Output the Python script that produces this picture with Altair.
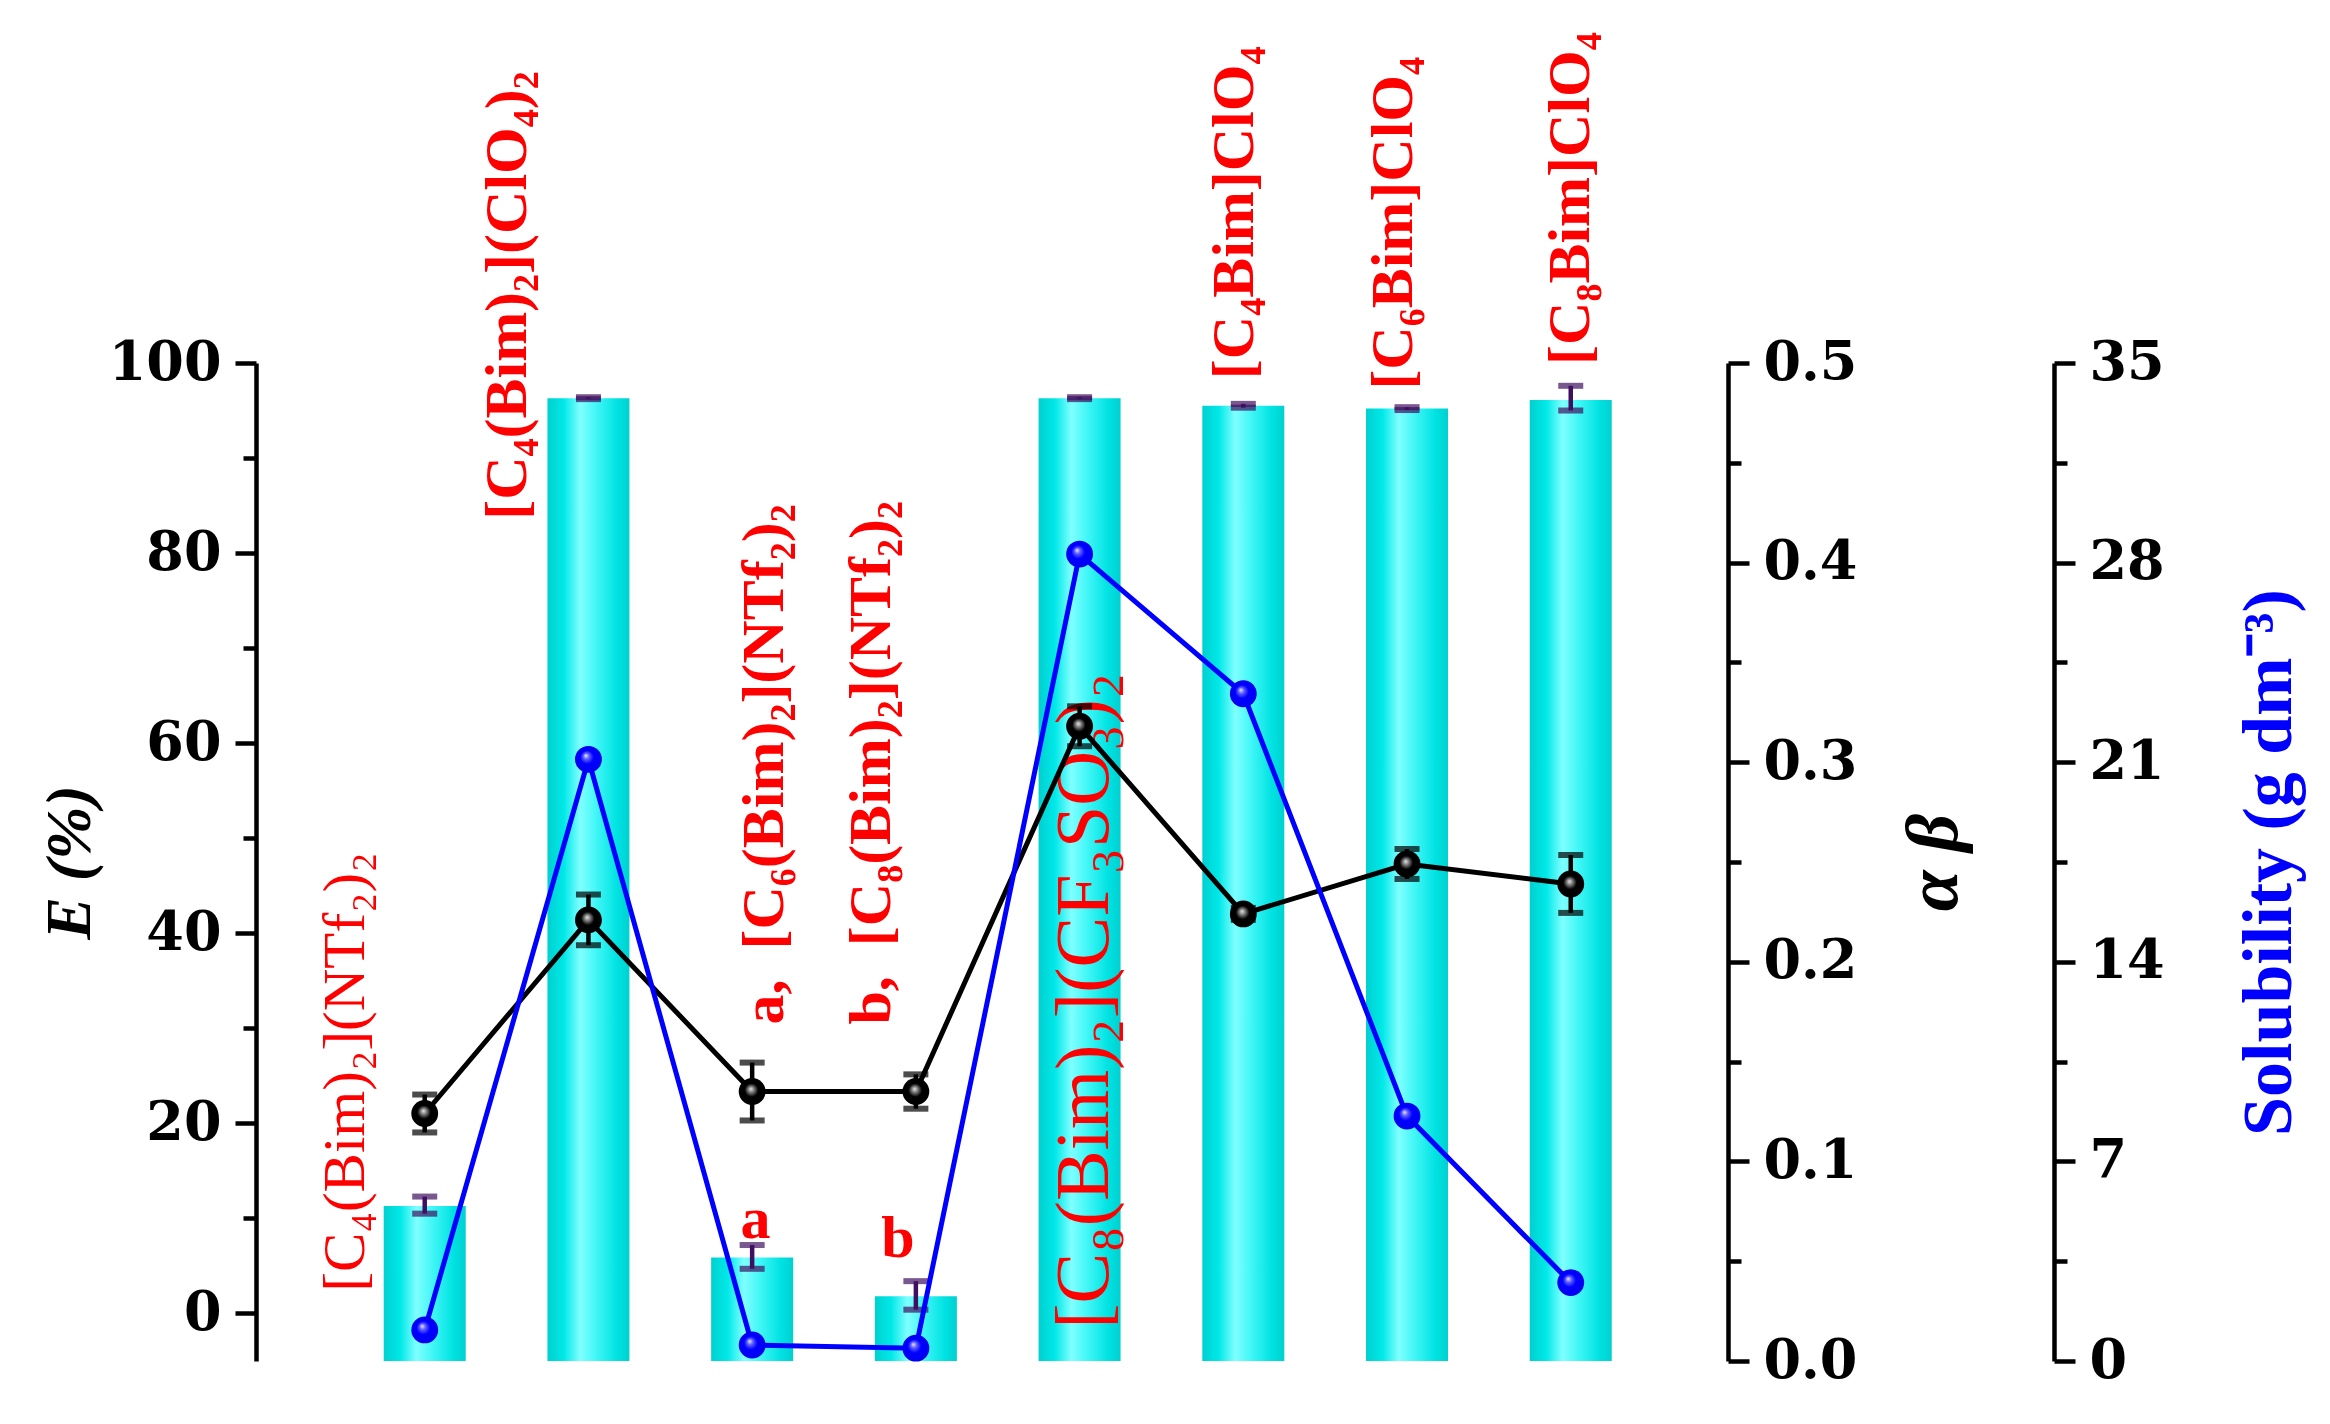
import altair as alt
import pandas as pd

# ---------------- data ----------------
idx = [1, 2, 3, 4, 5, 6, 7, 8]
names = [
    "[C₄(Bim)₂](NTf₂)₂",
    "[C₄(Bim)₂](ClO₄)₂",
    "a,\u2002[C₆(Bim)₂](NTf₂)₂",
    "b,\u2002[C₈(Bim)₂](NTf₂)₂",
    "[C₈(Bim)₂](CF₃SO₃)₂",
    "[C₄Bim]ClO₄",
    "[C₆Bim]ClO₄",
    "[C₈Bim]ClO₄",
]
E_vals = [11.3, 96.3, 5.9, 1.8, 96.3, 95.5, 95.2, 96.1]
E_err_center = [11.4, 96.3, 5.95, 1.9, 96.3, 95.5, 95.2, 96.3]
E_err = [0.9, 0.1, 1.25, 1.5, 0.1, 0.2, 0.15, 1.3]
ab_vals = [0.124, 0.221, 0.135, 0.135, 0.318, 0.224, 0.249, 0.239]
ab_err = [0.0095, 0.0127, 0.0145, 0.0086, 0.010, 0.003, 0.0075, 0.0145]
sol_vals = [1.09, 21.1, 0.56, 0.45, 28.3, 23.4, 8.59, 2.75]

# label anchors (x in category units, y in E units)
label_k = [0, 1, 2, 3, 4, 5, 6, 7]
label_x = [0.52, 1.51, 3.08, 3.73, 5.03, 5.95, 6.92, 8.00]
label_E = [2.3, 83.5, 30.4, 30.4, -1.6, 98.3, 97.2, 99.8]
note_text = ["a", "b"]
note_x = [3.02, 3.89]
note_E = [9.8, 7.8]

E_ticks = [0, 20, 40, 60, 80, 100]
E_minor = [10, 30, 50, 70, 90]
ab_ticks = [0.0, 0.1, 0.2, 0.3, 0.4, 0.5]
ab_minor = [0.05, 0.15, 0.25, 0.35, 0.45]
sol_ticks = [0, 7, 14, 21, 28, 35]
sol_minor = [3.5, 10.5, 17.5, 24.5, 31.5]

df = pd.DataFrame({
    "i": idx, "name": names, "E": E_vals, "Ec": E_err_center, "Ee": E_err,
    "ab": ab_vals, "abe": ab_err, "sol": sol_vals,
})
lab_df = pd.DataFrame({"k": label_k, "lx": label_x, "ly": label_E, "name": names})
note_df = pd.DataFrame({"nx": note_x, "ny": note_E, "t": note_text})

# ---------------- styles ----------------
FONT = "Liberation Serif"
TICKFONT = "DejaVu Serif"
xscale = alt.Scale(domain=[0, 8.93], nice=False, zero=False)
Escale = alt.Scale(domain=[-5, 100], nice=False, zero=False)
ABscale = alt.Scale(domain=[0, 0.5], nice=False, zero=False)
SOLscale = alt.Scale(domain=[0, 35], nice=False, zero=False)

x_axis = alt.Axis(domain=True, domainWidth=4.5, domainColor="black", ticks=False,
                  labels=False, title=None, grid=False)


def X(field, main=False):
    return alt.X(field, type="quantitative", scale=xscale,
                 axis=x_axis if main else None)


common_axis = dict(domainWidth=4.5, domainColor="black", tickWidth=4.5, tickColor="black",
                   labelFont=TICKFONT, labelFontSize=54, labelFontWeight="bold",
                   labelColor="black", grid=False, labelPadding=14, tickSize=21)

E_axis = alt.Axis(orient="left", values=E_ticks, title="E (%)", titleFont=FONT,
                  titleFontSize=64, titleFontWeight="bold", titleFontStyle="italic",
                  titleColor="black", titlePadding=6, **common_axis)
E_minor_axis = alt.Axis(orient="left", values=E_minor, labels=False, domain=False,
                        tickSize=13, tickWidth=4.5, tickColor="black", title=None, grid=False)
AB_axis = alt.Axis(orient="right", values=ab_ticks, format=".1f", title="α β",
                   titleFont=FONT, titleFontSize=74, titleFontWeight="bold",
                   titleFontStyle="italic", titleColor="black", titleAngle=270,
                   titlePadding=116, **common_axis)
AB_minor_axis = alt.Axis(orient="right", values=ab_minor, labels=False, domain=False,
                         tickSize=13, tickWidth=4.5, tickColor="black", title=None, grid=False)
SOL_axis = alt.Axis(orient="right", offset=326, values=sol_ticks, title="Solubility (g dm⁻³)",
                    titleFont=FONT, titleFontSize=70, titleFontWeight="bold",
                    titleColor="#0000ff", titleAngle=270, titlePadding=141, **common_axis)
SOL_minor_axis = alt.Axis(orient="right", offset=326, values=sol_minor, labels=False,
                          domain=False, tickSize=13, tickWidth=4.5, tickColor="black",
                          title=None, grid=False)

bar_grad = alt.Gradient(
    gradient="linear", x1=0, x2=1, y1=0, y2=0,
    stops=[alt.GradientStop(offset=0, color="#00d0d0"),
           alt.GradientStop(offset=0.2, color="#00e8e8"),
           alt.GradientStop(offset=0.4, color="#80ffff"),
           alt.GradientStop(offset=0.6, color="#40f6f6"),
           alt.GradientStop(offset=0.85, color="#00e2e2"),
           alt.GradientStop(offset=1, color="#00d0d0")])
black_grad = alt.Gradient(
    gradient="radial", x1=0.45, y1=0.4, r1=0, x2=0.5, y2=0.5, r2=0.5,
    stops=[alt.GradientStop(offset=0, color="#e8e8e8"),
           alt.GradientStop(offset=0.22, color="#808080"),
           alt.GradientStop(offset=0.5, color="#000000"),
           alt.GradientStop(offset=1, color="#000000")])
blue_grad = alt.Gradient(
    gradient="radial", x1=0.4, y1=0.35, r1=0, x2=0.5, y2=0.5, r2=0.5,
    stops=[alt.GradientStop(offset=0, color="#f0f0ff"),
           alt.GradientStop(offset=0.22, color="#6060ff"),
           alt.GradientStop(offset=0.5, color="#0000ff"),
           alt.GradientStop(offset=1, color="#0000f0")])

base = alt.Chart(df)

bars = base.mark_bar(size=82, fill=bar_grad).encode(
    x=X("i", main=True),
    y=alt.Y("E:Q", scale=Escale, axis=E_axis),
    y2=alt.datum(-5),
)
E_minor_layer = base.mark_point(opacity=0).encode(
    x=X("i"), y=alt.Y("E:Q", scale=Escale, axis=E_minor_axis))

bar_err = base.transform_calculate(lo="datum.Ec - datum.Ee", hi="datum.Ec + datum.Ee")
bar_err_rule = bar_err.mark_rule(color="#401060", strokeWidth=4.5).encode(
    x=X("i"), y=alt.Y("lo:Q", scale=Escale, axis=None), y2="hi:Q")
bar_err_lo = bar_err.mark_tick(color="#401060", orient="horizontal", size=25, thickness=6).encode(
    x=X("i"), y=alt.Y("lo:Q", scale=Escale, axis=None))
bar_err_hi = bar_err.mark_tick(color="#401060", orient="horizontal", size=25, thickness=6).encode(
    x=X("i"), y=alt.Y("hi:Q", scale=Escale, axis=None))

lab_base = alt.Chart(lab_df)
labels_bold = lab_base.transform_filter("datum.k != 0 && datum.k != 4").mark_text(
    angle=270, align="left", baseline="middle", font=FONT, fontWeight="bold",
    fontSize=60, color="#ff0000").encode(
    x=X("lx"), y=alt.Y("ly:Q", scale=Escale, axis=None), text="name:N")
label_first = lab_base.transform_filter("datum.k == 0").mark_text(
    angle=270, align="left", baseline="middle", font=FONT, fontWeight="normal",
    fontSize=59, color="#ff0000").encode(
    x=X("lx"), y=alt.Y("ly:Q", scale=Escale, axis=None), text="name:N")
label_fifth = lab_base.transform_filter("datum.k == 4").mark_text(
    angle=270, align="left", baseline="middle", font=FONT, fontWeight="normal",
    fontSize=76, color="#ff0000").encode(
    x=X("lx"), y=alt.Y("ly:Q", scale=Escale, axis=None), text="name:N")
notes = alt.Chart(note_df).mark_text(
    align="center", baseline="middle", font=FONT, fontWeight="bold",
    fontSize=60, color="#ff0000").encode(
    x=X("nx"), y=alt.Y("ny:Q", scale=Escale, axis=None), text="t:N")

ab_err_df = base.transform_calculate(lo="datum.ab - datum.abe", hi="datum.ab + datum.abe")
ab_rule = ab_err_df.mark_rule(color="black", strokeWidth=4.5).encode(
    x=X("i"), y=alt.Y("lo:Q", scale=ABscale, axis=None), y2="hi:Q")
ab_lo = ab_err_df.mark_tick(color="black", orient="horizontal", size=25, thickness=6).encode(
    x=X("i"), y=alt.Y("lo:Q", scale=ABscale, axis=None))
ab_hi = ab_err_df.mark_tick(color="black", orient="horizontal", size=25, thickness=6).encode(
    x=X("i"), y=alt.Y("hi:Q", scale=ABscale, axis=None))
ab_line = base.mark_line(color="black", strokeWidth=5).encode(
    x=X("i"), y=alt.Y("ab:Q", scale=ABscale, axis=AB_axis))
ab_minor_layer = base.mark_point(opacity=0).encode(
    x=X("i"), y=alt.Y("ab:Q", scale=ABscale, axis=AB_minor_axis))
ab_pts = base.mark_point(shape="circle", fill=black_grad, fillOpacity=1, strokeWidth=0,
                         size=720, opacity=1).encode(
    x=X("i"), y=alt.Y("ab:Q", scale=ABscale, axis=None))

sol_line = base.mark_line(color="#0000ff", strokeWidth=5).encode(
    x=X("i"), y=alt.Y("sol:Q", scale=SOLscale, axis=SOL_axis))
sol_minor_layer = base.mark_point(opacity=0).encode(
    x=X("i"), y=alt.Y("sol:Q", scale=SOLscale, axis=SOL_minor_axis))
sol_pts = base.mark_point(shape="circle", fill=blue_grad, fillOpacity=1, strokeWidth=0,
                          size=720, opacity=1).encode(
    x=X("i"), y=alt.Y("sol:Q", scale=SOLscale, axis=None))

chart = alt.layer(
    bars, E_minor_layer, bar_err_rule, bar_err_lo, bar_err_hi,
    labels_bold, label_first, label_fifth, notes,
    ab_rule, ab_lo, ab_hi, ab_line, ab_minor_layer, ab_pts,
    sol_line, sol_minor_layer, sol_pts,
).resolve_scale(y="independent").properties(
    width=1472, height=998,
    autosize=alt.AutoSizeParams(type="none"),
    padding={"left": 256, "top": 363, "right": 602, "bottom": 63},
    background="white",
).configure_view(stroke=None)

chart.save("out.html", embed_options={"renderer": "svg", "actions": False})
